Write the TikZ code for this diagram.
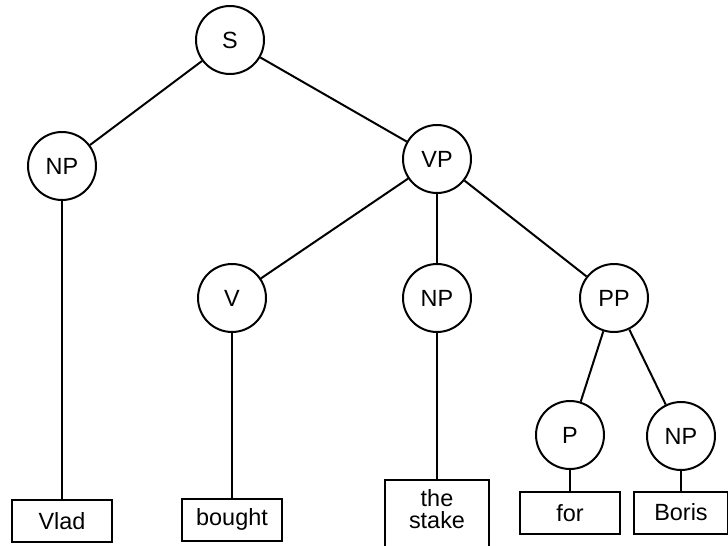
\documentclass[tikz,border=0pt]{standalone}
\usepackage{fontspec}
\setmainfont{Liberation Sans}

\begin{document}
\begin{tikzpicture}[x=0.3mm, y=-0.3mm,
    cat/.style={circle, draw, line width=1.7pt, minimum size=20.4mm, inner sep=0pt, font=\fontsize{20}{19}\selectfont},
    word/.style={rectangle, draw, line width=1.7pt, minimum width=30mm, minimum height=12.6mm, inner sep=0pt, font=\fontsize{20}{19}\selectfont}]
    \useasboundingbox (0,0) rectangle (728,546);

    \node[cat] (S) at (230,40) {S};
    \node[cat] (NPa) at (62,166) {NP};
    \node[cat] (VP) at (437,159) {VP};
    \node[cat] (V) at (232,298) {V};
    \node[cat] (NPb) at (437,298) {NP};
    \node[cat] (PP) at (614,298) {PP};
    \node[cat] (P) at (570,435) {P};
    \node[cat] (NPc) at (681,436) {NP};

    \node[word] (vlad) at (62,521) {Vlad};
    \node[word] (bought) at (232,519.5) {bought};
    \node[word, minimum width=31mm, align=center, anchor=north, inner ysep=2.85mm, text depth=7.2mm] (stake) at (437,479) {the\\stake};
    \node[word] (for) at (570,513) {for};
    \node[word, minimum width=28.2mm] (boris) at (681,512.5) {Boris};

    \draw[line width=1.7pt] (S) -- (NPa);
    \draw[line width=1.7pt] (S) -- (VP);
    \draw[line width=1.7pt] (VP) -- (V);
    \draw[line width=1.7pt] (VP) -- (NPb);
    \draw[line width=1.7pt] (VP) -- (PP);
    \draw[line width=1.7pt] (PP) -- (P);
    \draw[line width=1.7pt] (PP) -- (NPc);

    \draw[line width=1.7pt] (NPa) -- (vlad);
    \draw[line width=1.7pt] (V) -- (bought);
    \draw[line width=1.7pt] (NPb) -- (stake);
    \draw[line width=1.7pt] (P) -- (for);
    \draw[line width=1.7pt] (NPc) -- (boris);
\end{tikzpicture}
\end{document}
